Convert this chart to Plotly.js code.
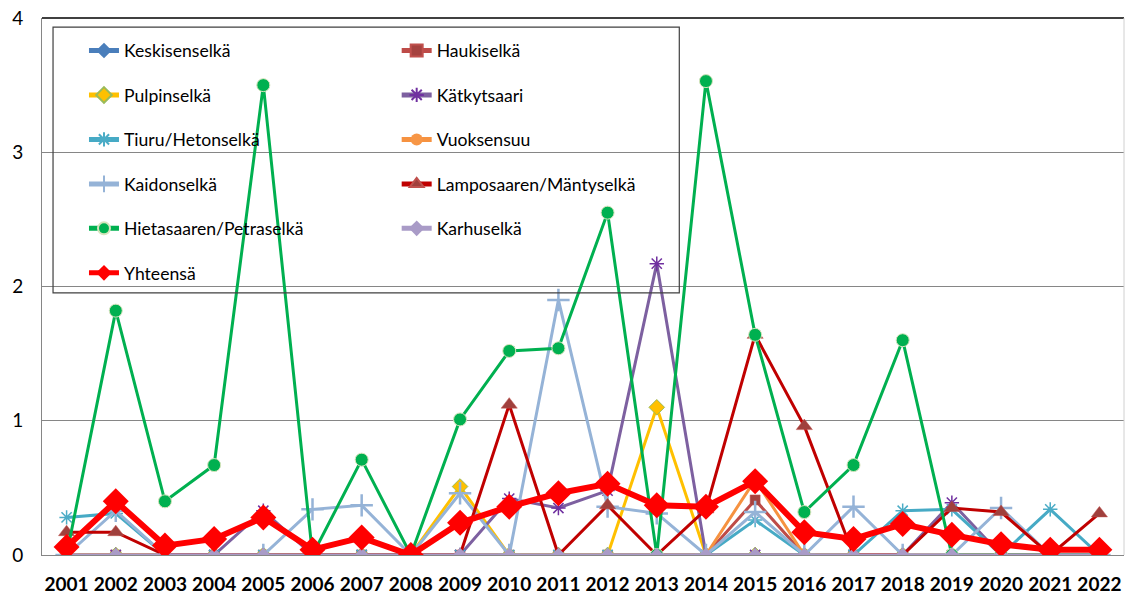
<!DOCTYPE html>
<html>
<head>
<meta charset="utf-8">
<script src="https://cdn.plot.ly/plotly-3.0.1.min.js"></script>
<style>html,body{margin:0;padding:0;background:#fff;}#chart{width:1125px;height:594px;}</style>
</head>
<body>
<div id="chart"></div>
<script>
const years = ['2001','2002','2003','2004','2005','2006','2007','2008','2009','2010','2011','2012','2013','2014','2015','2016','2017','2018','2019','2020','2021','2022'];
const keskisenselka = [0,0,0,0,0,0,0,0,0,0,0,0,0,0,0,0,0,0,0,0,0,0];
const haukiselka    = [0,0,0,0,0,0,0,0,0,0,0,0,0,0,0.41,0,0,0,0,0,0,0];
const pulpinselka   = [0,0,0,0,0,0,0,0,0.51,0,0,0,1.10,0,0,0,0,0,0,0,0,0];
const katkytsaari   = [0,0,0,0,0.33,0,0,0,0,0.42,0.35,0.48,2.17,0,0,0,0,0,0.39,0,0,0];
const tiuru         = [0.28,0.31,0,0,0,0,0,0,0,0,0,0,0,0,0.26,0,0,0.33,0.34,0,0.34,0];
const vuoksensuu    = [0,0,0,0,0,0,0,0,0,0,0,0,0,0,0.56,0,0,0,0,0,0,0];
const kaidonselka   = [0,0.33,0,0,0,0.34,0.37,0,0.46,0,1.90,0.36,0.31,0,0.32,0,0.36,0,0,0.35,0,0];
const lamposaaren   = [0.17,0.17,0,0,0,0,0,0,0,1.12,0,0.37,0,0.34,1.64,0.96,0,0,0.35,0.32,0,0.31];
const hietasaaren   = [0,1.82,0.40,0.67,3.50,0,0.71,0,1.01,1.52,1.54,2.55,0,3.53,1.64,0.32,0.67,1.60,0,0,0,0];
const karhuselka    = [0,0,0,0,0,0,0,0,0,0,0,0,0,0,0,0,0,0,0,0,0,0];
const yhteensa      = [0.06,0.40,0.07,0.12,0.28,0.04,0.13,0.00,0.24,0.36,0.46,0.53,0.37,0.36,0.55,0.17,0.12,0.23,0.15,0.08,0.04,0.04];
const yTicks = [0,1,2,3,4];

function tr(name, y, lineColor, lineWidth, symbol, size, mColor, mLineColor, mLineWidth, legend) {
  return {
    type: 'scatter', mode: 'lines+markers', x: years, y: y, name: name,
    legendgroup: name, legend: legend,
    line: {color: lineColor, width: lineWidth},
    marker: {symbol: symbol, size: size, color: mColor, line: {color: mLineColor, width: mLineWidth}},
    hoverinfo: 'x+y+name'
  };
}

const data = [
  tr('Keskisenselkä', keskisenselka, '#4A7EBB', 3, 'diamond', 9, '#4A7EBB', '#4A7EBB', 0, 'legend'),
  tr('Haukiselkä', haukiselka, '#BE4B48', 3, 'square', 10, '#A5423F', '#C0504D', 0.5, 'legend2'),
  tr('Pulpinselkä', pulpinselka, '#FFC000', 3, 'diamond', 12, '#FFC000', '#9BBB59', 1, 'legend'),
  tr('Kätkytsaari', katkytsaari, '#7D60A0', 3, 'asterisk-open', 12, '#7030A0', '#7030A0', 1.5, 'legend2'),
  tr('Tiuru/Hetonselkä', tiuru, '#46AAC5', 3, 'asterisk-open', 12, '#4BACC6', '#4BACC6', 1.5, 'legend'),
  tr('Vuoksensuu', vuoksensuu, '#F69240', 3, 'circle', 10, '#F79646', '#F79646', 0, 'legend2'),
  tr('Kaidonselkä', kaidonselka, '#95B3D7', 3, 'cross-thin-open', 16, '#95B3D7', '#95B3D7', 2.5, 'legend'),
  tr('Lamposaaren/Mäntyselkä', lamposaaren, '#C00000', 3, 'triangle-up', 14, '#A0403D', '#C0504D', 0.5, 'legend2'),
  tr('Hietasaaren/Petraselkä', hietasaaren, '#00B050', 3, 'circle', 13, '#00B050', '#D7E4BD', 1, 'legend'),
  tr('Karhuselkä', karhuselka, '#A99BC7', 3, 'diamond', 11, '#A99BC7', '#A99BC7', 0, 'legend2'),
  tr('Yhteensä', yhteensa, '#FF0000', 6, 'diamond', 20, '#FF0000', '#FF0000', 0, 'legend')
];

const legendCommon = {
  xref: 'paper', yref: 'paper', xanchor: 'left', yanchor: 'top',
  orientation: 'v', bgcolor: 'rgba(0,0,0,0)', borderwidth: 0,
  font: {family: 'Lato, sans-serif', size: 17.6, color: '#000'},
  tracegroupgap: 18.6, itemsizing: 'constant', itemclick: false, itemdoubleclick: false
};

const layout = {
  width: 1125, height: 594,
  margin: {l: 42, r: 1, t: 18, b: 39, autoexpand: false},
  paper_bgcolor: '#fff', plot_bgcolor: '#fff',
  font: {family: 'Lato, sans-serif', color: '#000'},
  showlegend: true,
  legend: Object.assign({}, legendCommon, {x: 0.0388, y: 0.973}),
  legend2: Object.assign({}, legendCommon, {x: 0.3278, y: 0.973}),
  xaxis: {
    type: 'category', range: [-0.5, 21.5], fixedrange: true,
    showgrid: false, showline: true, linecolor: '#868686', linewidth: 1,
    ticks: '', tickfont: {family: 'Lato, sans-serif', size: 19, color: '#000', weight: 'bold'},
    ticklabelstandoff: 12, zeroline: false
  },
  yaxis: {
    range: [0, 4], fixedrange: true, tickvals: yTicks, ticktext: yTicks.map(String),
    showgrid: true, gridcolor: '#868686', gridwidth: 1,
    showline: true, linecolor: '#868686', linewidth: 1, zeroline: false,
    ticks: '', tickfont: {family: 'Lato, sans-serif', size: 19, color: '#000'},
    ticklabelstandoff: 14
  },
  shapes: [
    {type: 'line', xref: 'paper', yref: 'paper', x0: 0, x1: 1, y0: 1, y1: 1, line: {color: '#000', width: 1.5}, layer: 'above'},
    {type: 'line', xref: 'paper', yref: 'paper', x0: 1, x1: 1, y0: 0, y1: 1, line: {color: '#D0D0D0', width: 1}, layer: 'above'},
    {type: 'rect', xref: 'paper', yref: 'paper', x0: 0.0102, x1: 0.589, y0: 0.488, y1: 0.983, line: {color: '#404040', width: 1.2}, fillcolor: 'rgba(0,0,0,0)', layer: 'above'}
  ]
};

Plotly.newPlot('chart', data, layout, {displayModeBar: false, staticPlot: true});
</script>
</body>
</html>
